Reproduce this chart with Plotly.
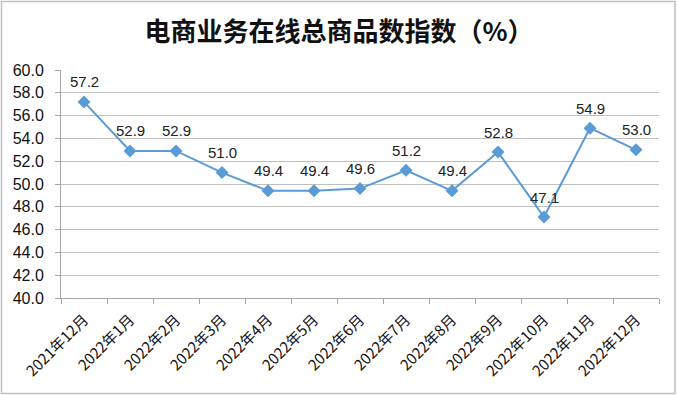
import plotly.graph_objects as go

categories = ["2021年12月", "2022年1月", "2022年2月", "2022年3月", "2022年4月", "2022年5月",
              "2022年6月", "2022年7月", "2022年8月", "2022年9月", "2022年10月", "2022年11月", "2022年12月"]
values = [57.2, 52.9, 52.9, 51.0, 49.4, 49.4, 49.6, 51.2, 49.4, 52.8, 47.1, 54.9, 53.0]
y_ticks = [40, 42, 44, 46, 48, 50, 52, 54, 56, 58, 60]
title_text = "电商业务在线总商品数指数（%）"

W, H = 678, 395
ml, mr, mt, mb = 61, 19, 70, 97
pw, ph = W - ml - mr, H - mt - mb

fig = go.Figure()
fig.add_trace(go.Scatter(
    x=categories, y=values, mode="lines+markers",
    line=dict(color="#5B9BD5", width=2),
    marker=dict(symbol="diamond", size=10, color="#5B9BD5"),
    cliponaxis=False, showlegend=False, hoverinfo="skip",
))

annotations = [dict(x=c, y=v, xref="x", yref="y", text=f"{v:.1f}", showarrow=False,
                    yshift=20, font=dict(size=15, color="#222222", family="Liberation Sans, Arial"))
               for c, v in zip(categories, values)]

fig.update_layout(
    width=W, height=H,
    margin=dict(l=ml, r=mr, t=mt, b=mb, autoexpand=False),
    paper_bgcolor="white", plot_bgcolor="white",
    title=dict(text=f"<b>{title_text}</b>", x=0.5, xanchor="center", y=1 - 32 / H, yanchor="middle",
               font=dict(size=26, color="#111111", family="Noto Sans CJK SC")),
    xaxis=dict(type="category", tickangle=-45, tickson="boundaries", ticks="outside", ticklen=5,
               tickcolor="#A6A6A6", showline=True, linecolor="#A6A6A6", linewidth=1,
               showgrid=False, tickfont=dict(size=15, color="#111111", family="Noto Sans CJK SC"),
               ticklabelstandoff=6,
               range=[-0.5, len(categories) - 0.5], automargin=False),
    yaxis=dict(range=[40, 60], tickvals=y_ticks, tickformat=".1f", ticks="outside", ticklen=5,
               tickcolor="#A6A6A6", showline=True, linecolor="#A6A6A6", linewidth=1,
               showgrid=True, gridcolor="#BFBFBF", gridwidth=1, zeroline=False,
               tickfont=dict(size=16, color="#111111", family="Liberation Sans, Arial"),
               ticklabelstandoff=8, automargin=False),
    annotations=annotations,
    shapes=[dict(type="rect", xref="paper", yref="paper",
                 x0=(1.5 - ml) / pw, x1=(W - 3 - ml) / pw,
                 y0=-(mb - 1.5) / ph, y1=1 + (mt - 1.5) / ph,
                 line=dict(color="#BFBFBF", width=1.5), layer="below")],
)

fig.write_html("out.html", config={"displayModeBar": False},
               post_script="document.body.style.margin='0';document.body.style.overflow='hidden';")
